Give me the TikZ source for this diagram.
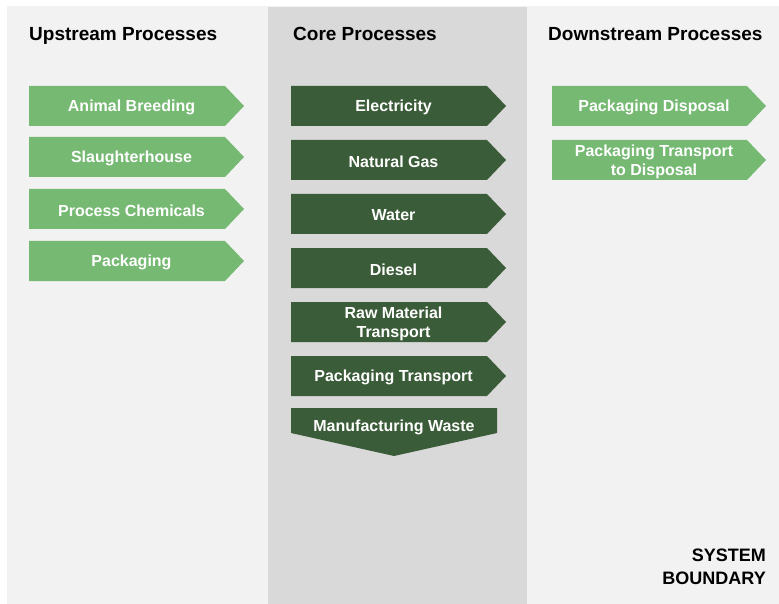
\documentclass[tikz,border=0pt]{standalone}
\usepackage{fontspec}
\setmainfont{Liberation Sans}
\definecolor{bgLight}{HTML}{F2F2F2}
\definecolor{bgMid}{HTML}{D9D9D9}
\definecolor{lgreen}{HTML}{76B973}
\definecolor{dgreen}{HTML}{3B5C38}
\tikzset{
  header/.style={anchor=base west, inner sep=0pt, font=\fontsize{19}{23}\selectfont\bfseries, text=black},
  boxtext/.style={inner sep=0pt, align=center, font=\fontsize{16}{19}\selectfont\bfseries, text=white},
}
% \chevron{name}{x1}{ytop}{xtip}{fill}{text}
\newcommand\chevron[6]{%
  \fill[#5] (#2,#3) -- (#4-19,#3) -- (#4,#3+20) -- (#4-19,#3+40) -- (#2,#3+40) -- cycle;
  \node[boxtext] (#1) at ({(#2+#4)/2-5},#3+21.5) {#6};
}
\begin{document}
\begin{tikzpicture}[x=1pt,y=-1pt]
\useasboundingbox (0,0) rectangle (779,604);
\fill[white] (0,0) rectangle (779,604);
\fill[bgLight] (7,6) rectangle (779,604);
\fill[bgMid] (268,7) rectangle (527,604);

\node[header] (hup) at (29,41) {Upstream Processes};
\node[header] (hcore) at (293,41) {Core Processes};
\node[header] (hdown) at (548,41) {Downstream Processes};

\chevron{ab}{29}{86}{244}{lgreen}{Animal Breeding}
\chevron{sh}{29}{137}{244}{lgreen}{Slaughterhouse}
\chevron{pc}{29}{189}{244}{lgreen}{Process Chemicals}
\chevron{pk}{29}{241}{244}{lgreen}{Packaging}

\chevron{el}{291}{86}{506}{dgreen}{Electricity}
\chevron{ng}{291}{140}{506}{dgreen}{Natural Gas}
\chevron{wa}{291}{194}{506}{dgreen}{Water}
\chevron{di}{291}{248}{506}{dgreen}{Diesel}
\chevron{rm}{291}{302}{506}{dgreen}{Raw Material\\Transport}
\chevron{pt}{291}{356}{506}{dgreen}{Packaging Transport}

\fill[dgreen] (291,408) -- (497,408) -- (497,433) -- (394,456) -- (291,433) -- cycle;
\node[boxtext] (mw) at (394,427.5) {Manufacturing Waste};

\chevron{pd}{552}{86}{766}{lgreen}{Packaging Disposal}
\chevron{ptd}{552}{140}{766}{lgreen}{Packaging Transport\\to Disposal}

\node[anchor=north east, inner sep=0pt, align=right, font=\fontsize{18}{23}\selectfont\bfseries] (sb) at (766,549) {SYSTEM\\BOUNDARY};
\end{tikzpicture}
\end{document}
